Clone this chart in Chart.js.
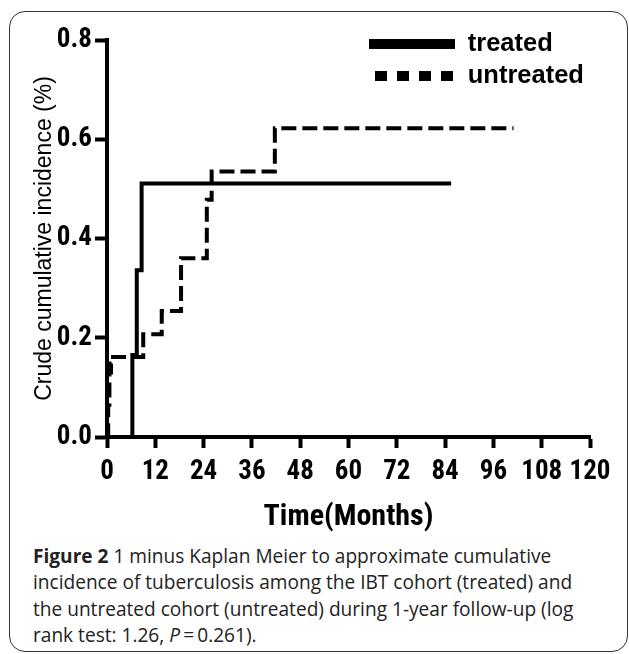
<!DOCTYPE html>
<html>
<head>
<meta charset="utf-8">
<script src="https://cdn.jsdelivr.net/npm/chart.js@4.4.1/dist/chart.umd.min.js"></script>
<style>
  html, body { margin: 0; padding: 0; background: #fff; }
  body { width: 629px; height: 654px; position: relative; overflow: hidden; }
  #frame { position: absolute; left: 9px; top: 11px; width: 619px; height: 641px; border: 1.5px solid #333; border-radius: 16px; box-sizing: border-box; }
  #chartWrap { position: absolute; left: 0; top: 0; width: 629px; height: 540px; }
  #caption { position: absolute; left: 33px; top: 543px; font-family: "Open Sans", "Noto Sans", sans-serif; font-size: 19.1px; line-height: 26.3px; color: #222; white-space: nowrap; }
</style>
</head>
<body>
<div id="frame"></div>
<div id="chartWrap"><canvas id="c" width="629" height="540"></canvas></div>
<div id="caption"><b>Figure 2</b> 1 minus Kaplan Meier to approximate cumulative<br>incidence of tuberculosis among the IBT cohort (treated) and<br>the untreated cohort (untreated) during 1-year follow-up (log<br>rank test: 1.26, <i>P</i>&#8201;=&#8201;0.261).</div>
<script>
// ---- data ----
const seriesNames = ["treated", "untreated"];
const treatedMonths = [0, 6.3, 7.4, 8.6, 85.5];
const treatedIncidence = [0, 0.165, 0.336, 0.511, 0.511];
const untreatedMonths = [0, 0.3, 0.6, 1.0, 1.5, 9.0, 13.6, 18.4, 24.8, 26.0, 41.7, 101];
const untreatedIncidence = [0, 0.065, 0.13, 0.148, 0.161, 0.207, 0.254, 0.360, 0.478, 0.535, 0.622, 0.622];
const xTicks = [0, 12, 24, 36, 48, 60, 72, 84, 96, 108, 120];
const yTicks = [0.0, 0.2, 0.4, 0.6, 0.8];
const xTitle = "Time(Months)";
const yTitle = "Crude cumulative incidence (%)";

const toPoints = (xs, ys) => xs.map((x, i) => ({ x: x, y: ys[i] }));

const condensed = "'Roboto Condensed', 'Liberation Sans', Arial, sans-serif";
const plain = "'Liberation Sans', Arial, Helvetica, sans-serif";

const legendFontSize = 25.5;
const legendPad = 6.5;

// place the library's legend inside the plot, top right
const legendPlacer = {
  id: 'legendPlacer',
  afterLayout(chart) {
    const lg = chart.legend;
    if (!lg) return;
    lg.left = 369 - legendPad; lg.top = 44 - legendPad - legendFontSize / 2;
    lg.right = 629; lg.bottom = lg.top + 120;
    lg.width = lg.right - lg.left; lg.height = lg.bottom - lg.top;
  }
};

new Chart(document.getElementById('c'), {
  type: 'line',
  data: {
    datasets: [
      {
        label: seriesNames[0],
        data: toPoints(treatedMonths, treatedIncidence),
        borderColor: '#000', backgroundColor: '#000',
        borderWidth: 4, pointRadius: 0, stepped: 'before', fill: false,
        borderCapStyle: 'butt', borderJoinStyle: 'miter'
      },
      {
        label: seriesNames[1],
        data: toPoints(untreatedMonths, untreatedIncidence),
        borderColor: '#000', backgroundColor: '#000',
        borderWidth: 4, borderDash: [15, 6], pointRadius: 0, stepped: 'before', fill: false,
        borderCapStyle: 'butt', borderJoinStyle: 'miter'
      }
    ]
  },
  options: {
    responsive: false,
    animation: false,
    layout: { padding: { left: 0, top: 40, right: 39, bottom: 0 } },
    plugins: {
      tooltip: { enabled: false },
      legend: {
        position: 'chartArea',
        align: 'start',
        labels: {
          usePointStyle: true,
          pointStyleWidth: 86,
          padding: legendPad,
          color: '#000',
          font: { family: plain, size: legendFontSize, weight: 'bold' },
          generateLabels(chart) {
            return chart.data.datasets.map((ds, i) => ({
              text: ds.label,
              fillStyle: '#000',
              strokeStyle: '#000',
              fontColor: '#000',
              lineWidth: 10,
              lineDash: i === 0 ? [] : [12, 10],
              lineDashOffset: i === 0 ? 0 : -6,
              lineCap: 'butt',
              pointStyle: 'line',
              hidden: false,
              datasetIndex: i
            }));
          }
        }
      }
    },
    scales: {
      x: {
        type: 'linear',
        min: 0, max: 120,
        afterBuildTicks(scale) { scale.ticks = xTicks.map(v => ({ value: v })); },
        afterFit(scale) { scale.height = 103; },
        ticks: {
          color: '#000', padding: 8, maxRotation: 0, autoSkip: false,
          font: { family: condensed, size: 27, weight: 'bold' },
          callback: (v) => String(v)
        },
        grid: { display: true, drawOnChartArea: false, drawTicks: true, tickLength: 11, tickWidth: 4, tickColor: '#000' },
        border: { display: true, width: 4, color: '#000' },
        title: { display: true, text: xTitle, color: '#000', padding: { top: 0, bottom: 5 },
                 font: { family: condensed, size: 30, weight: 'bold' } }
      },
      y: {
        type: 'linear',
        min: 0, max: 0.8,
        afterBuildTicks(scale) { scale.ticks = yTicks.map(v => ({ value: v })); },
        afterFit(scale) { scale.width = 107; },
        ticks: {
          color: '#000', padding: 3,
          font: { family: condensed, size: 27, weight: 'bold' },
          callback: (v) => Number(v).toFixed(1)
        },
        grid: { display: true, drawOnChartArea: false, drawTicks: true, tickLength: 12, tickWidth: 4, tickColor: '#000' },
        border: { display: true, width: 4, color: '#000' },
        title: { display: true, text: yTitle, color: '#000', padding: { top: 31, bottom: 0 },
                 font: { family: plain, size: 23, weight: 'normal' } }
      }
    }
  },
  plugins: [legendPlacer]
});
</script>
</body>
</html>
